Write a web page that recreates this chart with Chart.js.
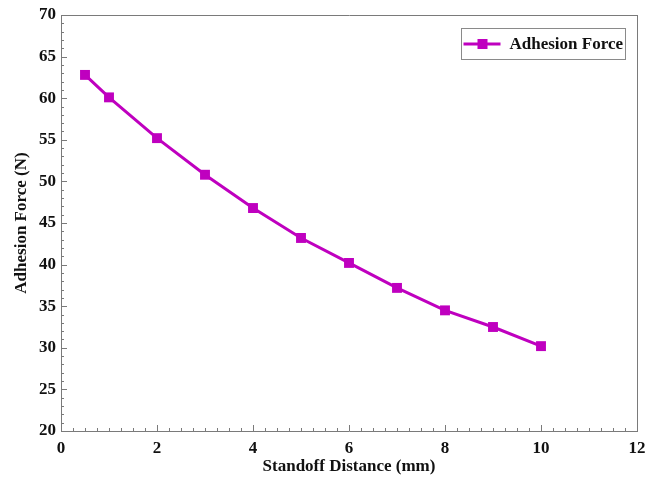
<!DOCTYPE html>
<html>
<head>
<meta charset="utf-8">
<script src="https://cdn.jsdelivr.net/npm/chart.js@4"></script>
<style>
  html, body { margin: 0; padding: 0; background: #fff; }
  #wrap { width: 647px; height: 477px; }
</style>
</head>
<body>
<div id="wrap"><canvas id="myChart" width="647" height="477"></canvas></div>
<script>
// standoff distance (mm) and measured adhesion force (N)
const distance = [0.5, 1, 2, 3, 4, 5, 6, 7, 8, 9, 10];
const force = [62.8, 60.1, 55.2, 50.8, 46.8, 43.2, 40.2, 37.2, 34.5, 32.5, 30.2];
const seriesName = 'Adhesion Force';
const xTitle = 'Standoff Distance (mm)';
const yTitle = 'Adhesion Force (N)';

const purple = '#bf00bf';
const axisGrey = '#7a7a7a';
const font = { family: '"Liberation Serif", "Times New Roman", serif', size: 17, weight: 'bold' };

// inward ticks + legend box, drawn after the chart
const decorations = {
    id: 'decorations',
    afterDraw(chart) {
        const ctx = chart.ctx;
        const area = chart.chartArea;
        const xs = chart.scales.x, ys = chart.scales.y;
        ctx.save();
        ctx.strokeStyle = axisGrey;
        ctx.lineWidth = 1;
        ctx.beginPath();
        for (let v = 0; v <= 12.001; v += 0.25) {
            const px = Math.round(xs.getPixelForValue(v)) + 0.5;
            const len = Math.abs(v - Math.round(v / 2) * 2) < 0.001 ? 6 : 3;
            ctx.moveTo(px, area.bottom);
            ctx.lineTo(px, area.bottom - len);
        }
        for (let v = 20; v <= 70; v += 1) {
            const py = Math.round(ys.getPixelForValue(v)) + 0.5;
            const len = v % 5 === 0 ? 6 : 3;
            ctx.moveTo(area.left, py);
            ctx.lineTo(area.left + len, py);
        }
        ctx.stroke();

        // legend
        const bx = 461.5, by = 28.5, bw = 164, bh = 31;
        ctx.strokeStyle = '#8a8a8a';
        ctx.strokeRect(bx, by, bw, bh);
        const cy = by + bh / 2;
        ctx.strokeStyle = purple;
        ctx.lineWidth = 3;
        ctx.beginPath();
        ctx.moveTo(bx + 2, cy);
        ctx.lineTo(bx + 39, cy);
        ctx.stroke();
        ctx.fillStyle = purple;
        ctx.fillRect(bx + 16, cy - 5, 10, 10);
        ctx.fillStyle = '#111';
        ctx.font = 'bold 17px "Liberation Serif", "Times New Roman", serif';
        ctx.textBaseline = 'middle';
        ctx.fillText(seriesName, bx + 48, cy + 1);
        ctx.restore();
    }
};

new Chart(document.getElementById('myChart').getContext('2d'), {
    type: 'scatter',
    data: {
        datasets: [{
            label: seriesName,
            data: distance.map((d, i) => ({ x: d, y: force[i] })),
            showLine: true,
            borderColor: purple,
            backgroundColor: purple,
            borderWidth: 3,
            pointStyle: 'rect',
            pointRadius: 7,
            pointHoverRadius: 7,
            pointBorderWidth: 0
        }]
    },
    options: {
        responsive: false,
        animation: false,
        layout: { padding: { top: 15, right: 10, left: 11, bottom: 0 } },
        plugins: {
            legend: { display: false },
            tooltip: { enabled: false }
        },
        scales: {
            x: {
                type: 'linear',
                min: 0,
                max: 12,
                ticks: { stepSize: 2, color: '#111', font: font, padding: 7 },
                grid: { drawOnChartArea: false, drawTicks: false },
                border: { color: axisGrey, width: 1 },
                title: { display: true, text: xTitle, color: '#111', font: font, padding: { top: 0, bottom: 0 } },
                afterFit: (s) => { s.height = 46; s.paddingLeft = 0; s.paddingRight = 0; }
            },
            y: {
                min: 20,
                max: 70,
                ticks: { stepSize: 5, color: '#111', font: font, padding: 5 },
                grid: { drawOnChartArea: false, drawTicks: false },
                border: { color: axisGrey, width: 1 },
                title: { display: true, text: yTitle, color: '#111', font: font, padding: { top: 0, bottom: 4 } },
                afterFit: (s) => { s.width = 50; s.paddingTop = 0; s.paddingBottom = 0; }
            },
            x2: {
                type: 'linear', position: 'top', min: 0, max: 12,
                ticks: { display: false },
                grid: { drawOnChartArea: false, drawTicks: false },
                border: { color: axisGrey, width: 1 },
                afterFit: (s) => { s.height = 0; }
            },
            y2: {
                type: 'linear', position: 'right', min: 20, max: 70,
                ticks: { display: false },
                grid: { drawOnChartArea: false, drawTicks: false },
                border: { color: axisGrey, width: 1 },
                afterFit: (s) => { s.width = 0; }
            }
        }
    },
    plugins: [decorations]
});
</script>
</body>
</html>
